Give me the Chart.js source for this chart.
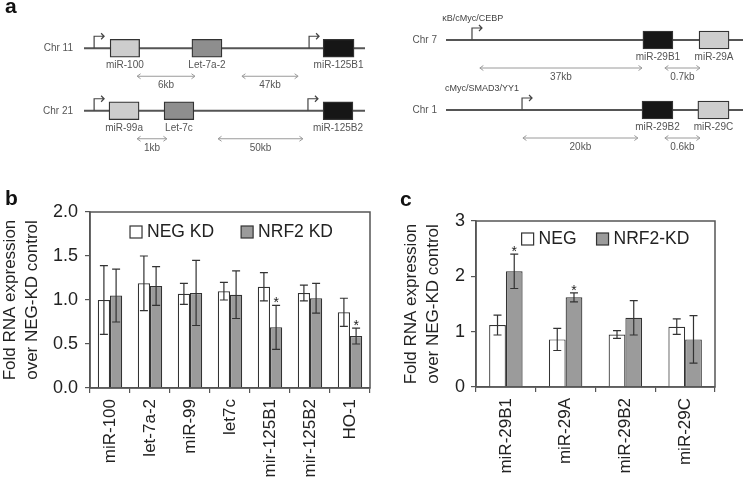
<!DOCTYPE html>
<html>
<head>
<meta charset="utf-8">
<script src="https://cdn.jsdelivr.net/npm/chart.js@4"></script>
<style>
  body { margin: 0; background: #fff; }
  #wrap { position: relative; width: 746px; height: 483px; overflow: hidden; font-family: "Liberation Sans", Arial, sans-serif; }
  canvas { position: absolute; }
  .plabel { position: absolute; font-weight: bold; font-size: 21px; line-height: 21px; color: #111; }
</style>
</head>
<body>
<div id="wrap">
  <canvas id="aL" width="370" height="160" style="left:0;top:0"></canvas>
  <canvas id="aR" width="376" height="170" style="left:370px;top:-10px"></canvas>
  <canvas id="cb" width="380" height="323" style="left:0;top:160px"></canvas>
  <canvas id="cc" width="366" height="323" style="left:380px;top:160px"></canvas>
  <div class="plabel" style="left:5px;top:-5px">a</div>
  <div class="plabel" style="left:5px;top:187px">b</div>
  <div class="plabel" style="left:400px;top:188px">c</div>
</div>
<script>
// ---------- Panel a (schematic units 0-100 along each chromosome line) ----------
const aLeftRows = ['Chr 11', 'Chr 21'];
const aLeftGenes = ['miR-100', 'Let-7a-2', 'miR-125B1', 'miR-99a', 'Let-7c', 'miR-125B2'];
const aLeftGeneRow = [0, 0, 0, 1, 1, 1];
const aLeftGeneStart = [9.3, 38.4, 85.1, 8.9, 28.5, 85.1];
const aLeftGeneEnd = [19.8, 49.1, 96.1, 19.6, 39.1, 95.7];
const aLeftGeneShade = [0, 1, 2, 0, 1, 2];
const aLeftPromRow = [0, 0, 1, 1];
const aLeftPromPos = [3.6, 80.1, 3.6, 79.7];
const aLeftPromLabel = ['', '', '', ''];
const aLeftPromLabelPos = [0, 0, 0, 0];
const aLeftSpanLabel = ['6kb', '47kb', '1kb', '50kb'];
const aLeftSpanRow = [0, 0, 1, 1];
const aLeftSpanStart = [18.9, 56.2, 18.9, 47.7];
const aLeftSpanEnd = [39.5, 76.2, 29.5, 77.9];

const aRightRows = ['Chr 7', 'Chr 1'];
const aRightGenes = ['miR-29B1', 'miR-29A', 'miR-29B2', 'miR-29C'];
const aRightGeneRow = [0, 0, 1, 1];
const aRightGeneStart = [66.3, 85.2, 66.0, 84.8];
const aRightGeneEnd = [76.4, 95.3, 76.4, 95.3];
const aRightGeneShade = [2, 0, 2, 0];
const aRightPromRow = [0, 1];
const aRightPromPos = [8.75, 25.6];
const aRightPromLabel = ['κB/cMyc/CEBP', 'cMyc/SMAD3/YY1'];
const aRightPromLabelPos = [-1.3, -0.3];
const aRightSpanLabel = ['37kb', '0.7kb', '20kb', '0.6kb'];
const aRightSpanRow = [0, 0, 1, 1];
const aRightSpanStart = [11.4, 73.7, 25.9, 73.7];
const aRightSpanEnd = [66.0, 85.5, 64.6, 85.5];

const chromExtent = [0, 100];

// ---------- Panel b ----------
const bCategories = ['miR-100', 'let-7a-2', 'miR-99', 'let7c', 'mir-125B1', 'mir-125B2', 'HO-1'];
const bNeg = [1.00, 1.19, 1.07, 1.10, 1.15, 1.08, 0.86];
const bNegErr = [0.39, 0.31, 0.12, 0.10, 0.16, 0.09, 0.16];
const bNrf2 = [1.05, 1.16, 1.08, 1.06, 0.69, 1.02, 0.59];
const bNrf2Err = [0.30, 0.22, 0.37, 0.27, 0.25, 0.17, 0.09];
const bNrf2Sig = [false, false, false, false, true, false, true];
const bSeries = ['NEG KD', 'NRF2 KD'];
const bYTitle = ['Fold RNA expression', 'over NEG-KD control'];

// ---------- Panel c ----------
const cCategories = ['miR-29B1', 'miR-29A', 'miR-29B2', 'miR-29C'];
const cNeg = [1.12, 0.86, 0.95, 1.09];
const cNegErr = [0.18, 0.20, 0.07, 0.14];
const cNrf2 = [2.09, 1.62, 1.25, 0.86];
const cNrf2Err = [0.31, 0.08, 0.31, 0.43];
const cNrf2Sig = [true, true, false, false];
const cSeries = ['NEG', 'NRF2-KD'];
const cYTitle = ['Fold RNA expression', 'over NEG-KD control'];

// ---------- common ----------
const FONT = '"Liberation Sans", Arial, sans-serif';
Chart.defaults.font.family = FONT;
Chart.defaults.animation = false;
const shadePalette = ['#cdcdcd', '#8e8e8e', '#161616'];

function diagramPlugin(d) {
  return {
    id: 'diagram',
    afterDatasetsDraw(chart) {
      const ctx = chart.ctx, x = chart.scales.x, y = chart.scales.y;
      ctx.save();
      ctx.font = '10px ' + FONT;
      ctx.fillStyle = '#555';
      ctx.textAlign = 'center';
      ctx.textBaseline = 'middle';
      d.genes.forEach((g, i) => {
        const cx = (x.getPixelForValue(d.geneStart[i]) + x.getPixelForValue(d.geneEnd[i])) / 2;
        ctx.fillText(g, cx, y.getPixelForValue(d.geneRow[i]) + 17);
      });
      // distance arrows
      ctx.strokeStyle = '#9a9a9a';
      ctx.lineWidth = 1;
      d.spanLabel.forEach((s, i) => {
        const x1 = x.getPixelForValue(d.spanStart[i]);
        const x2 = x.getPixelForValue(d.spanEnd[i]);
        const yy = y.getPixelForValue(d.spanRow[i]) + 28;
        ctx.beginPath();
        ctx.moveTo(x1, yy); ctx.lineTo(x2, yy);
        ctx.moveTo(x1 + 3.5, yy - 2.5); ctx.lineTo(x1, yy); ctx.lineTo(x1 + 3.5, yy + 2.5);
        ctx.moveTo(x2 - 3.5, yy - 2.5); ctx.lineTo(x2, yy); ctx.lineTo(x2 - 3.5, yy + 2.5);
        ctx.stroke();
        ctx.fillText(s, (x1 + x2) / 2, yy + 9);
      });
      // promoters
      ctx.strokeStyle = '#444';
      ctx.lineWidth = 1.2;
      d.promPos.forEach((p, i) => {
        const px = x.getPixelForValue(p);
        const ry = y.getPixelForValue(d.promRow[i]);
        ctx.beginPath();
        ctx.moveTo(px, ry); ctx.lineTo(px, ry - 12); ctx.lineTo(px + 10, ry - 12);
        ctx.moveTo(px + 7, ry - 15); ctx.lineTo(px + 10, ry - 12); ctx.lineTo(px + 7, ry - 9);
        ctx.stroke();
        if (d.promLabel[i]) {
          ctx.save();
          ctx.font = '9px ' + FONT;
          ctx.textAlign = 'left';
          ctx.fillStyle = '#444';
          ctx.fillText(d.promLabel[i], x.getPixelForValue(d.promLabelPos[i]), ry - 21);
          ctx.restore();
        }
      });
      ctx.restore();
    }
  };
}

function makeDiagram(id, rows, d, axisWidth, tickPad, padding) {
  new Chart(document.getElementById(id), {
    type: 'bar',
    data: {
      labels: rows,
      datasets: [
        {
          data: d.genes.map((g, i) => ({ y: rows[d.geneRow[i]], x: [d.geneStart[i], d.geneEnd[i]] })),
          backgroundColor: d.geneShade.map(s => shadePalette[s]),
          borderColor: '#333',
          borderWidth: 1.3,
          borderSkipped: false,
          barThickness: 18,
          grouped: false,
          order: 0
        },
        {
          data: rows.map(() => chromExtent),
          backgroundColor: '#555',
          borderWidth: 0,
          barThickness: 1.5,
          grouped: false,
          order: 1
        }
      ]
    },
    options: {
      indexAxis: 'y',
      responsive: false,
      layout: { padding: padding },
      plugins: { legend: { display: false }, tooltip: { enabled: false } },
      scales: {
        x: { type: 'linear', display: false, min: 0, max: 100 },
        y: {
          grid: { display: false, drawTicks: false },
          border: { display: false },
          ticks: { color: '#555', font: { size: 10 }, padding: tickPad },
          afterFit: s => { s.width = axisWidth; }
        }
      }
    },
    plugins: [diagramPlugin(d)]
  });
}

makeDiagram('aL', aLeftRows, {
  genes: aLeftGenes, geneRow: aLeftGeneRow, geneStart: aLeftGeneStart, geneEnd: aLeftGeneEnd, geneShade: aLeftGeneShade,
  promRow: aLeftPromRow, promPos: aLeftPromPos, promLabel: aLeftPromLabel, promLabelPos: aLeftPromLabelPos,
  spanLabel: aLeftSpanLabel, spanRow: aLeftSpanRow, spanStart: aLeftSpanStart, spanEnd: aLeftSpanEnd
}, 84, 11, { top: 2, bottom: 18, right: 5 });

makeDiagram('aR', aRightRows, {
  genes: aRightGenes, geneRow: aRightGeneRow, geneStart: aRightGeneStart, geneEnd: aRightGeneEnd, geneShade: aRightGeneShade,
  promRow: aRightPromRow, promPos: aRightPromPos, promLabel: aRightPromLabel, promLabelPos: aRightPromLabelPos,
  spanLabel: aRightSpanLabel, spanRow: aRightSpanRow, spanStart: aRightSpanStart, spanEnd: aRightSpanEnd
}, 76, 9, { top: 9, bottom: 9, right: 3 });

// ---------- bar charts ----------
const errorBarsPlugin = {
  id: 'errorBars',
  afterDatasetsDraw(chart) {
    const ctx = chart.ctx, y = chart.scales.y, a = chart.chartArea;
    ctx.save();
    ctx.strokeStyle = '#555';
    ctx.lineWidth = 1.5;
    ctx.strokeRect(a.left, a.top, a.right - a.left, a.bottom - a.top);
    ctx.strokeStyle = '#333';
    ctx.lineWidth = 1.2;
    chart.data.datasets.forEach((ds, di) => {
      const meta = chart.getDatasetMeta(di);
      meta.data.forEach((bar, i) => {
        const v = ds.data[i], e = ds.errors[i];
        const yt = y.getPixelForValue(v + e), yb = y.getPixelForValue(v - e);
        ctx.beginPath();
        ctx.moveTo(bar.x, yt); ctx.lineTo(bar.x, yb);
        ctx.moveTo(bar.x - 4, yt); ctx.lineTo(bar.x + 4, yt);
        ctx.moveTo(bar.x - 4, yb); ctx.lineTo(bar.x + 4, yb);
        ctx.stroke();
        if (ds.sig && ds.sig[i]) {
          ctx.save();
          ctx.fillStyle = '#222';
          ctx.font = '14px ' + FONT;
          ctx.textAlign = 'center';
          ctx.textBaseline = 'middle';
          ctx.fillText('*', bar.x, yt - 2);
          ctx.restore();
        }
      });
    });
    ctx.restore();
  }
};

// legend drawn inside the plot frame, in one row, from the datasets' own labels and colours
const insideLegendPlugin = {
  id: 'insideLegend',
  afterDraw(chart, args, opts) {
    const ctx = chart.ctx, a = chart.chartArea;
    ctx.save();
    ctx.font = opts.fontSize + 'px ' + FONT;
    ctx.textBaseline = 'middle';
    ctx.textAlign = 'left';
    const box = 12, gap = 5;
    const items = chart.data.datasets.map(ds => ({
      label: ds.label, w: ctx.measureText(ds.label).width, fill: ds.backgroundColor, stroke: ds.borderColor
    }));
    const total = items.reduce((s, it) => s + box + gap + it.w, 0) + opts.itemGap * (items.length - 1);
    let x = (a.left + a.right) / 2 + opts.dx - total / 2;
    const y = a.top + opts.dy;
    items.forEach(it => {
      ctx.fillStyle = it.fill;
      ctx.fillRect(x, y - box / 2, box, box);
      ctx.strokeStyle = it.stroke;
      ctx.lineWidth = 1.2;
      ctx.strokeRect(x, y - box / 2, box, box);
      ctx.fillStyle = '#222';
      ctx.fillText(it.label, x + box + gap, y + 0.5);
      x += box + gap + it.w + opts.itemGap;
    });
    ctx.restore();
  }
};

function makeBars(id, o) {
  new Chart(document.getElementById(id), {
    type: 'bar',
    data: {
      labels: o.categories,
      datasets: [
        { label: o.series[0], data: o.neg, errors: o.negErr, backgroundColor: '#ffffff', borderColor: '#333', borderWidth: 1.2 },
        { label: o.series[1], data: o.nrf2, errors: o.nrf2Err, sig: o.sig, backgroundColor: '#9b9b9b', borderColor: '#333', borderWidth: 1.2 }
      ]
    },
    options: {
      responsive: false,
      layout: { padding: o.padding },
      datasets: { bar: { categoryPercentage: o.catPct, barPercentage: 1.0 } },
      plugins: {
        tooltip: { enabled: false },
        legend: { display: false },
        insideLegend: o.legend
      },
      scales: {
        x: {
          grid: { display: true, drawOnChartArea: false, drawTicks: true, tickLength: 5, color: '#555', lineWidth: 1.2, offset: true },
          border: { display: true, color: '#555', width: 1.5 },
          ticks: { color: '#222', font: { size: 17 }, minRotation: 90, maxRotation: 90, autoSkip: false, padding: 6 },
          afterFit: s => { s.height = o.xHeight; }
        },
        y: {
          min: 0, max: o.yMax,
          grid: { display: true, drawOnChartArea: false, drawTicks: true, tickLength: 5, color: '#555', lineWidth: 1.2 },
          border: { display: true, color: '#555', width: 1.5 },
          ticks: { stepSize: o.yStep, color: '#222', font: { size: 18 }, padding: o.yTickPad, callback: o.yFmt },
          title: { display: true, text: o.title, color: '#222', font: { size: 17, lineHeight: 1.25 }, padding: { top: o.titlePad, bottom: 0 } },
          afterFit: s => { s.width = o.yWidth; }
        }
      }
    },
    plugins: [errorBarsPlugin, insideLegendPlugin]
  });
}

makeBars('cb', {
  categories: bCategories, series: bSeries, neg: bNeg, negErr: bNegErr, nrf2: bNrf2, nrf2Err: bNrf2Err, sig: bNrf2Sig,
  title: bYTitle, padding: { top: 52, right: 10 }, catPct: 0.61, xHeight: 95,
  legend: { fontSize: 17.5, itemGap: 27, dx: 1.5, dy: 20 },
  yMax: 2, yStep: 0.5, yFmt: v => Number(v).toFixed(1), yTickPad: 7, titlePad: 0, yWidth: 90
});

makeBars('cc', {
  categories: cCategories, series: cSeries, neg: cNeg, negErr: cNegErr, nrf2: cNrf2, nrf2Err: cNrf2Err, sig: cNrf2Sig,
  title: cYTitle, padding: { top: 61, right: 31 }, catPct: 0.56, xHeight: 96,
  legend: { fontSize: 17.5, itemGap: 20, dx: 10, dy: 18 },
  yMax: 3, yStep: 1, yFmt: v => String(v), yTickPad: 6, titlePad: 21, yWidth: 96
});
</script>
</body>
</html>
